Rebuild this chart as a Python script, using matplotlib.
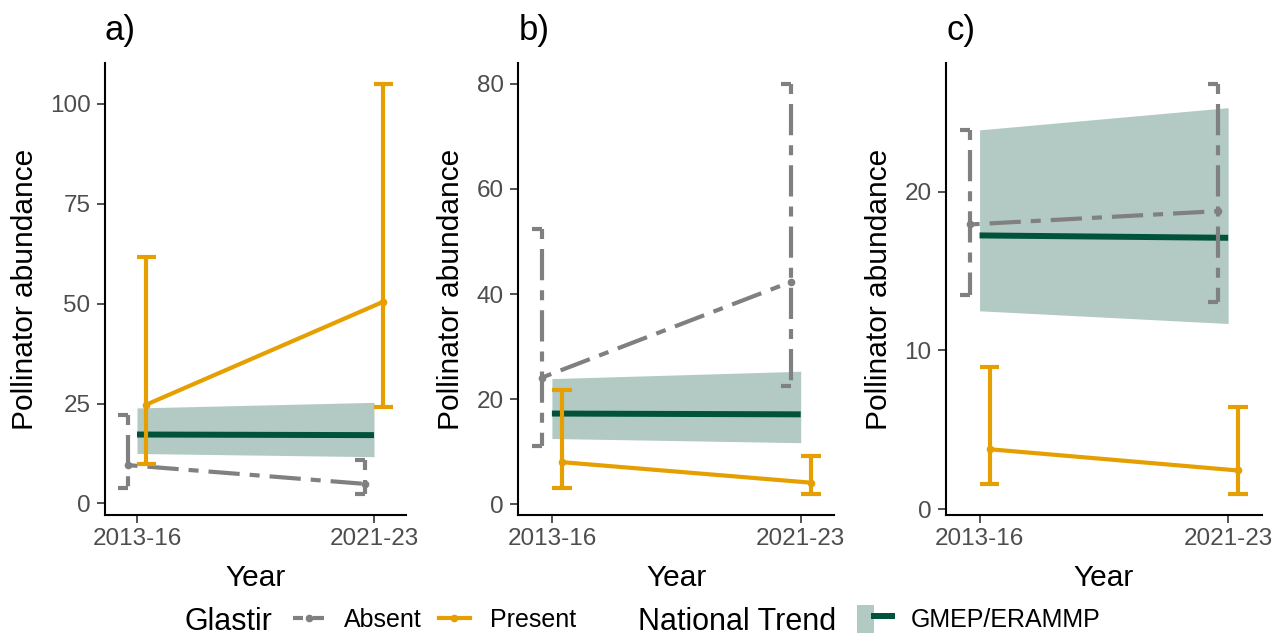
import matplotlib
matplotlib.use("Agg")
import matplotlib.pyplot as plt
from matplotlib.lines import Line2D
from matplotlib.patches import Patch
from matplotlib.legend_handler import HandlerTuple

plt.rcParams['font.family'] = ['Liberation Sans', 'DejaVu Sans']

# data
years = ['2013-16', '2021-23']
panels = ['a)', 'b)', 'c)']

a_absent_mean = [9.6, 4.9]
a_absent_lo = [3.75, 2.25]
a_absent_hi = [22.25, 10.75]
a_present_mean = [24.75, 50.5]
a_present_lo = [9.9, 24.2]
a_present_hi = [61.7, 105.0]

b_absent_mean = [24.1, 42.3]
b_absent_lo = [11.05, 22.5]
b_absent_hi = [52.4, 80.0]
b_present_mean = [8.0, 4.1]
b_present_lo = [3.05, 1.85]
b_present_hi = [21.8, 9.2]

c_absent_mean = [17.94, 18.78]
c_absent_lo = [13.48, 13.06]
c_absent_hi = [23.88, 26.8]
c_present_mean = [3.78, 2.44]
c_present_lo = [1.62, 0.93]
c_present_hi = [8.97, 6.45]

# national trend (GMEP/ERAMMP), same in every panel
national_fit = [17.25, 17.1]
national_lo = [12.5, 11.7]
national_hi = [23.9, 25.3]

a_ticks = [0, 25, 50, 75, 100]
b_ticks = [0, 20, 40, 60, 80]
c_ticks = [0, 10, 20]

# styles
gray = '#808080'
orange = '#E69F00'
green = '#00523B'
twodash = (0, (2.4, 2.4, 7.5, 2.4))
dodge = 0.04
cap = 0.04

fig = plt.figure(figsize=(12.76, 6.37), dpi=100)
W, H = 1276, 637
lefts = [105, 518.3, 946]
rights = [406, 834.3, 1261.7]
top_px, bot_px = 63.3, 515

data = [
    (a_absent_mean, a_absent_lo, a_absent_hi, a_present_mean, a_present_lo, a_present_hi, a_ticks),
    (b_absent_mean, b_absent_lo, b_absent_hi, b_present_mean, b_present_lo, b_present_hi, b_ticks),
    (c_absent_mean, c_absent_lo, c_absent_hi, c_present_mean, c_present_lo, c_present_hi, c_ticks),
]


def draw_group(ax, xs, mean, lo, hi, color, ls):
    # connecting line + points
    ax.plot(xs, mean, color=color, lw=3, linestyle=ls, solid_capstyle='butt', zorder=4)
    ax.plot(xs, mean, 'o', color=color, ms=4.5, zorder=5)
    # error bars drawn like ggplot: top cap, stem (top->bottom), bottom cap
    for x, l, h in zip(xs, lo, hi):
        ax.plot([x - cap, x + cap], [h, h], color=color, lw=3, linestyle=ls, solid_capstyle='butt', zorder=4)
        ax.plot([x, x], [h, l], color=color, lw=3, linestyle=ls, solid_capstyle='butt', zorder=4)
        ax.plot([x - cap, x + cap], [l, l], color=color, lw=3, linestyle=ls, solid_capstyle='butt', zorder=4)


for i, (abs_m, abs_l, abs_h, pre_m, pre_l, pre_h, ticks) in enumerate(data):
    l, r = lefts[i], rights[i]
    ax = fig.add_axes([l / W, 1 - bot_px / H, (r - l) / W, (bot_px - top_px) / H])
    x = [1, 2]

    ax.fill_between(x, national_lo, national_hi, color=green, alpha=0.3, lw=0, zorder=1)
    ax.plot(x, national_fit, color=green, lw=4.3, solid_capstyle='butt', zorder=2)

    draw_group(ax, [v - dodge for v in x], abs_m, abs_l, abs_h, gray, twodash)
    draw_group(ax, [v + dodge for v in x], pre_m, pre_l, pre_h, orange, '-')

    lo_all = min(abs_l + pre_l + national_lo)
    hi_all = max(abs_h + pre_h + national_hi)
    rng = hi_all - lo_all
    ax.set_ylim(lo_all - 0.05 * rng, hi_all + 0.05 * rng)
    ax.set_xlim(0.865, 2.135)

    ax.set_xticks(x)
    ax.set_xticklabels(years)
    ax.set_yticks(ticks)
    ax.tick_params(axis='both', length=6, width=1.2, color='#333333',
                   labelcolor='#4D4D4D', labelsize=17.5)
    ax.tick_params(axis='y', pad=4.5)
    ax.tick_params(axis='x', pad=3.5)
    for s in ['top', 'right']:
        ax.spines[s].set_visible(False)
    for s in ['left', 'bottom']:
        ax.spines[s].set_linewidth(1.5)
        ax.spines[s].set_color('black')

    ax.set_xlabel('Year', fontsize=21.5, labelpad=10)
    ax.set_ylabel('Pollinator abundance', fontsize=21.5, labelpad=8)
    ax.set_title(panels[i], loc='left', fontsize=25, pad=16.5)

# legends
fig.text(185 / W, 1 - 630 / H, 'Glastir', fontsize=22, ha='left', va='baseline')
glastir_handles = [
    Line2D([], [], color=gray, lw=3, linestyle=twodash, marker='o', ms=4.5),
    Line2D([], [], color=orange, lw=3, marker='o', ms=4.5),
]
fig.legend(glastir_handles, ['Absent', 'Present'], loc='center left',
           bbox_to_anchor=(293.3 / W, 1 - 620 / H), ncol=2, frameon=False,
           fontsize=18, handlelength=1.24, handletextpad=0.8, columnspacing=0.66,
           borderpad=0, borderaxespad=0)

fig.text(638.3 / W, 1 - 630 / H, 'National Trend', fontsize=22, ha='left', va='baseline')
trend_handle = (Patch(facecolor=green, alpha=0.3, lw=0), Line2D([], [], color=green, lw=4.3))
fig.legend([trend_handle], ['GMEP/ERAMMP'], loc='center left',
           bbox_to_anchor=(856.7 / W, 1 - 619 / H), frameon=False, fontsize=18,
           handlelength=1.4, handleheight=1.4, handletextpad=0.75,
           borderpad=0, borderaxespad=0,
           handler_map={tuple: HandlerTuple(ndivide=None)})

fig.savefig('out.png', dpi=100)
